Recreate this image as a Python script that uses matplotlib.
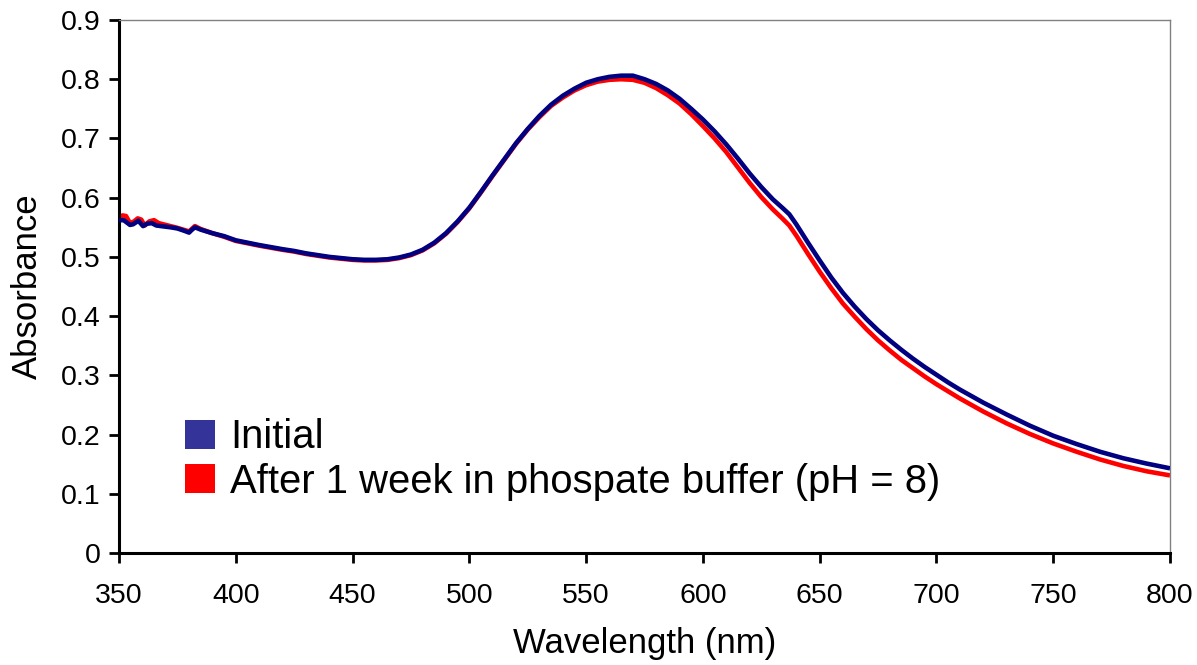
import matplotlib
matplotlib.use("Agg")
import matplotlib.pyplot as plt
from matplotlib.patches import Patch

plt.rcParams['font.family'] = ['Liberation Sans', 'DejaVu Sans']

# ---- data ----
wl_initial = [350, 352, 354.7, 356, 358.3, 360.3, 362, 364, 366, 368, 370, 372, 375, 378, 380,
              381, 382.5, 385, 390, 395,
              400, 410, 420, 425, 430, 440, 450, 455, 460, 465, 470, 475, 480, 485, 490, 495,
              500, 505, 510, 515, 520, 525, 530, 535, 540, 545, 550, 555, 560, 565, 570, 575,
              580, 585, 590, 595, 600, 605, 610, 615, 620, 625, 630, 634, 637, 640, 645, 650,
              655, 660, 665, 670, 675, 680, 685, 690, 695, 700, 705, 710, 720, 730, 740, 750,
              760, 770, 780, 790, 800]
abs_initial = [0.562, 0.562, 0.554, 0.555, 0.561, 0.552, 0.556, 0.557, 0.553, 0.552, 0.551, 0.550,
               0.548, 0.544, 0.541, 0.545, 0.550, 0.546, 0.540, 0.535,
               0.528, 0.520, 0.513, 0.510, 0.506, 0.500, 0.496, 0.495, 0.495, 0.496, 0.499, 0.504,
               0.512, 0.524, 0.540, 0.560, 0.583, 0.610, 0.638, 0.665, 0.692, 0.716, 0.738, 0.757,
               0.772, 0.784, 0.794, 0.800, 0.804, 0.806, 0.806, 0.800, 0.792, 0.781, 0.767, 0.750,
               0.732, 0.712, 0.690, 0.666, 0.641, 0.618, 0.597, 0.583, 0.572, 0.555, 0.524, 0.494,
               0.465, 0.439, 0.416, 0.395, 0.376, 0.359, 0.343, 0.328, 0.314, 0.301, 0.288, 0.276,
               0.254, 0.234, 0.215, 0.198, 0.184, 0.171, 0.160, 0.151, 0.143]

wl_after = [350, 351.5, 353, 354.7, 356.5, 358, 359.5, 361, 363, 365, 367, 370, 375, 380, 382.5,
            385, 390, 395,
            400, 410, 420, 425, 430, 440, 450, 455, 460, 465, 470, 475, 480, 485, 490, 495,
            500, 505, 510, 515, 520, 525, 530, 535, 540, 545, 550, 555, 560, 565, 570, 575,
            580, 585, 590, 595, 600, 605, 610, 615, 620, 625, 630, 634, 637, 640, 645, 650,
            655, 660, 665, 670, 675, 680, 685, 690, 695, 700, 705, 710, 720, 730, 740, 750,
            760, 770, 780, 790, 800]
abs_after = [0.566, 0.570, 0.569, 0.557, 0.560, 0.565, 0.563, 0.553, 0.560, 0.562, 0.557, 0.554,
             0.549, 0.543, 0.552, 0.547, 0.540, 0.534,
             0.527, 0.519, 0.512, 0.509, 0.505, 0.499, 0.495, 0.494, 0.494, 0.495, 0.498, 0.503,
             0.511, 0.523, 0.539, 0.559, 0.582, 0.609, 0.637, 0.664, 0.691, 0.715, 0.736, 0.755,
             0.769, 0.781, 0.790, 0.796, 0.799, 0.800, 0.799, 0.794, 0.785, 0.773, 0.759, 0.741,
             0.721, 0.700, 0.677, 0.651, 0.625, 0.601, 0.580, 0.565, 0.553, 0.536, 0.505, 0.475,
             0.447, 0.421, 0.399, 0.378, 0.359, 0.342, 0.326, 0.312, 0.298, 0.285, 0.273, 0.261,
             0.239, 0.219, 0.201, 0.185, 0.171, 0.158, 0.147, 0.138, 0.131]

labels = ["Initial", "After 1 week in phospate buffer (pH = 8)"]
x_ticks = [350, 400, 450, 500, 550, 600, 650, 700, 750, 800]
y_ticks = [0, 0.1, 0.2, 0.3, 0.4, 0.5, 0.6, 0.7, 0.8, 0.9]
y_ticklabels = ["0", "0.1", "0.2", "0.3", "0.4", "0.5", "0.6", "0.7", "0.8", "0.9"]

# ---- figure ----
fig = plt.figure(figsize=(11.97, 6.65), dpi=100)
ax = fig.add_axes([119/1197, 112/665, (1170-119)/1197, (553-20)/665])

ax.plot(wl_after, abs_after, color="#FF0000", lw=3.3, solid_capstyle="butt",
        solid_joinstyle="round", zorder=2)
ax.plot(wl_initial, abs_initial, color="#000080", lw=3.3, solid_capstyle="butt",
        solid_joinstyle="round", zorder=3)

ax.set_xlim(350, 800)
ax.set_ylim(0, 0.9)
ax.set_xticks(x_ticks)
ax.set_yticks(y_ticks)
ax.set_yticklabels(y_ticklabels)

for s in ["left", "bottom"]:
    ax.spines[s].set_color("black")
    ax.spines[s].set_linewidth(2.2)
for s in ["top", "right"]:
    ax.spines[s].set_color("#808080")
    ax.spines[s].set_linewidth(1.0)

ax.tick_params(axis="both", which="major", direction="out", length=7.5, width=2.0,
               color="black", labelsize=20.5, top=False, right=False)
ax.tick_params(axis="y", pad=6)
ax.tick_params(axis="x", pad=14)

ax.set_xlabel("Wavelength (nm)", fontsize=25, labelpad=13)
ax.set_ylabel("Absorbance", fontsize=25, labelpad=12)

handles = [Patch(facecolor="#333399", edgecolor="none"),
           Patch(facecolor="#FF0000", edgecolor="none")]
leg = ax.legend(handles, labels, loc="upper left", bbox_to_anchor=(185/1197, (665-418)/665),
                bbox_transform=fig.transFigure, frameon=False, fontsize=28.8,
                handlelength=0.74, handleheight=0.74, handletextpad=0.38,
                labelspacing=0.17, borderpad=0, borderaxespad=0)

fig.savefig("out.png", dpi=100)
